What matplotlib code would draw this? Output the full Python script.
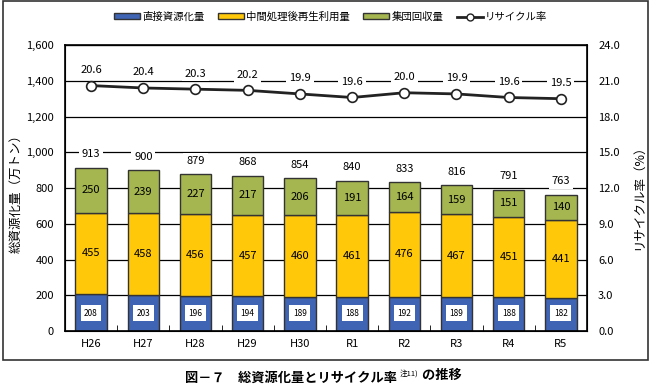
import matplotlib.pyplot as plt
from matplotlib.patches import Rectangle, Patch
from matplotlib.lines import Line2D
from matplotlib.ticker import FuncFormatter

plt.rcParams['font.family'] = ['Noto Sans CJK JP', 'DejaVu Sans']

years = ['H26', 'H27', 'H28', 'H29', 'H30', 'R1', 'R2', 'R3', 'R4', 'R5']
direct = [208, 203, 196, 194, 189, 188, 192, 189, 188, 182]      # 直接資源化量
middle = [455, 458, 456, 457, 460, 461, 476, 467, 451, 441]      # 中間処理後再生利用量
group = [250, 239, 227, 217, 206, 191, 164, 159, 151, 140]       # 集団回収量
total = [913, 900, 879, 868, 854, 840, 833, 816, 791, 763]
rate = [20.6, 20.4, 20.3, 20.2, 19.9, 19.6, 20.0, 19.9, 19.6, 19.5]  # リサイクル率

c_blue = '#3F64B4'
c_yellow = '#FFC90A'
c_green = '#A5B54F'
edge = '#333333'

fig = plt.figure(figsize=(6.65, 3.92), dpi=100)
ax = fig.add_axes([0.0977, 0.1556, 0.785, 0.7294])
x = list(range(len(years)))
w = 0.6

ax.set_axisbelow(True)
ax.yaxis.grid(True, color='black', lw=0.9)
ax.bar(x, direct, w, color=c_blue, edgecolor=edge, lw=1)
ax.bar(x, middle, w, bottom=direct, color=c_yellow, edgecolor=edge, lw=1)
bot3 = [a + b for a, b in zip(direct, middle)]
ax.bar(x, group, w, bottom=bot3, color=c_green, edgecolor=edge, lw=1)

for i in x:
    ax.text(i, 100, str(direct[i]), ha='center', va='center', fontsize=6,
            bbox=dict(facecolor='white', edgecolor='none', pad=2.5))
    ax.text(i, direct[i] + middle[i] / 2, str(middle[i]), ha='center', va='center', fontsize=8)
    ax.text(i, bot3[i] + group[i] / 2, str(group[i]), ha='center', va='center', fontsize=8)
    ax.text(i, total[i] + 75, str(total[i]), ha='center', va='center', fontsize=8,
            bbox=dict(facecolor='white', edgecolor='none', pad=2))

ax.set_xlim(-0.5, len(years) - 0.5)
ax.set_ylim(0, 1600)
ax.set_yticks(range(0, 1601, 200))
ax.yaxis.set_major_formatter(FuncFormatter(lambda v, p: f'{int(v):,}'))
ax.set_xticks(x)
ax.set_xticklabels(years, fontsize=8)
ax.set_xticks([i + 0.5 for i in x[:-1]], minor=True)
ax.tick_params(axis='x', which='major', length=0, pad=6)
ax.tick_params(axis='x', which='minor', direction='in', length=4)
ax.tick_params(axis='y', length=0, labelsize=8, pad=8)
ax.set_ylabel('総資源化量（万トン）', fontsize=9)
ax.yaxis.set_label_coords(-0.082, 0.49)
for s in ax.spines.values():
    s.set_linewidth(1.2)

ax2 = ax.twinx()
ax2.plot(x, rate, color='#222222', lw=2, marker='o', ms=7, mfc='white', mec='#222222', mew=1.2)
for i in x:
    ax2.text(i, rate[i] + 1.3, f'{rate[i]:.1f}', ha='center', va='center', fontsize=8,
             bbox=dict(facecolor='white', edgecolor='none', pad=2))
ax2.set_ylim(0, 24)
ax2.set_yticks([i * 3 for i in range(9)])
ax2.yaxis.set_major_formatter(FuncFormatter(lambda v, p: f'{v:.1f}'))
ax2.tick_params(axis='y', length=0, labelsize=8, pad=8)
ax2.set_ylabel('リサイクル率（%）', fontsize=9, rotation=90)
ax2.yaxis.set_label_coords(1.086, 0.48)

handles = [Patch(facecolor=c_blue, edgecolor=edge), Patch(facecolor=c_yellow, edgecolor=edge),
           Patch(facecolor=c_green, edgecolor=edge),
           Line2D([], [], color='#222222', lw=2, marker='o', ms=5, mfc='white', mec='#222222')]
labels = ['直接資源化量', '中間処理後再生利用量', '集団回収量', 'リサイクル率']
fig.legend(handles, labels, loc='center', bbox_to_anchor=(0.497, 0.957), ncol=4, frameon=False,
           fontsize=7.5, handlelength=2.5, handleheight=0.5, columnspacing=1.3, handletextpad=0.2)

# outer frame and caption
fig.patches.append(Rectangle((0.0045, 0.082), 0.97, 0.915, transform=fig.transFigure,
                             fill=False, edgecolor='#333333', lw=1.2))
t1 = fig.text(0.278, 0.036, '図－７　総資源化量とリサイクル率 ', ha='left', va='center',
              fontsize=9.5, fontweight='bold')
t2 = ax.annotate('注11)', xy=(1, 0.55), xycoords=t1, ha='left', va='bottom', fontsize=5.5,
                 annotation_clip=False)
ax.annotate(' の推移', xy=(1, 0), xycoords=t2, xytext=(0, -3.5), textcoords='offset points',
            ha='left', va='bottom', fontsize=9.5, fontweight='bold', annotation_clip=False)

fig.savefig('out.png', dpi=100)
